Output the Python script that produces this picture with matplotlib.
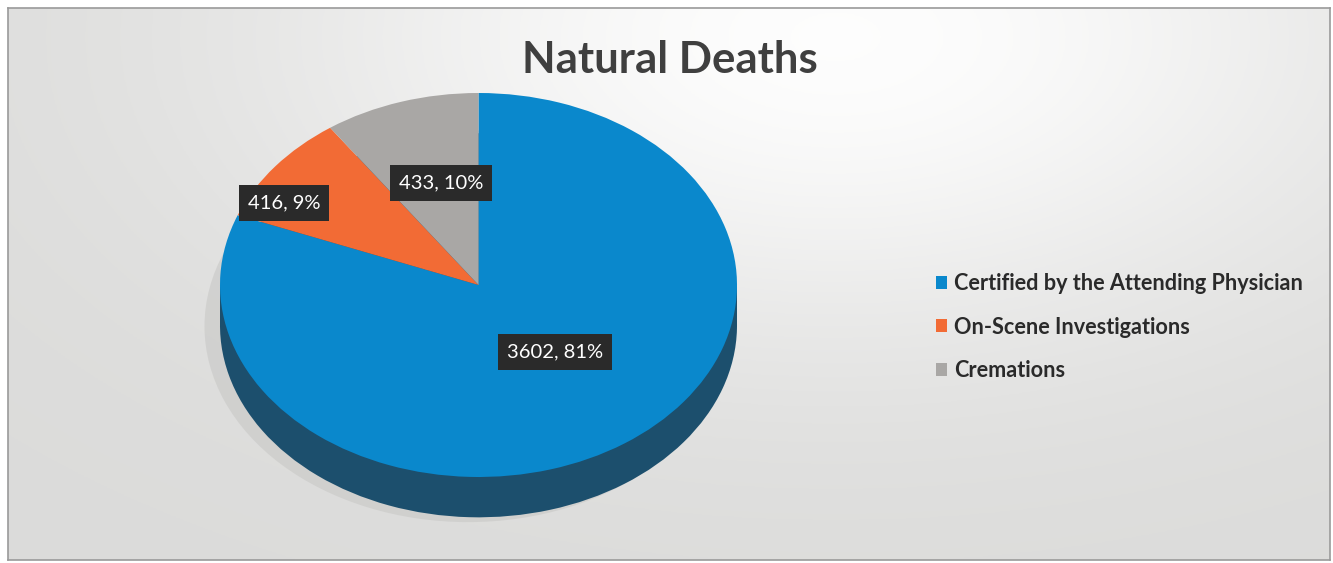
import numpy as np
import matplotlib
matplotlib.use("Agg")
import matplotlib.pyplot as plt
from matplotlib.patches import Rectangle

categories = ["Certified by the Attending Physician", "On-Scene Investigations", "Cremations"]
counts = [3602, 416, 433]
percents = [81, 9, 10]
colors = ["#0a88cc", "#f26b35", "#a9a7a5"]
side_color = "#1c4f6d"
title = "Natural Deaths"

W, H = 1333, 563
fig = plt.figure(figsize=(W / 100, H / 100), dpi=100)
fig.patch.set_facecolor("white")

# background panel with soft light glow
bg = fig.add_axes([8 / W, 3 / H, 1322 / W, 552 / H])
yy, xx = np.mgrid[0:200, 0:400]
glow = np.exp(-(((xx - 250) / 170.0) ** 2 + ((yy - 10) / 110.0) ** 2))
base = np.array([0.86, 0.86, 0.855])
img = base[None, None, :] + (1 - base)[None, None, :] * glow[..., None] * 0.95
bg.imshow(img, aspect="auto", extent=(0, 1, 0, 1), origin="upper")
bg.set_xlim(0, 1)
bg.set_ylim(0, 1)
bg.set_xticks([])
bg.set_yticks([])
for s in bg.spines.values():
    s.set_color("#9a9a9a")
    s.set_linewidth(1.2)

# pie axes: ellipse spans x 220..737, top y 93, ry 192 px, depth ~40 px
cx0, rx = 220, 517
top, ry = 93, 192
depth = 0.21
ymin = -1 - depth - 0.01
h_px = (1 - ymin) * ry
ax = fig.add_axes([cx0 / W, 1 - (top + h_px) / H, rx / W, h_px / H])
ax.set_facecolor("none")

# soft shadow
ax.pie([1], radius=1.02, center=(-0.04, -depth - 0.005), colors=["#c8c8c6"],
       wedgeprops=dict(linewidth=0, alpha=0.6))
# side of the cylinder
ax.pie(counts, radius=1, center=(0, -depth), startangle=90, counterclock=False,
       colors=[side_color] * 3, wedgeprops=dict(linewidth=0))
ax.add_patch(Rectangle((-1, -depth), 2, depth, facecolor=side_color, linewidth=0))
# top face
wedges, _ = ax.pie(counts, radius=1, center=(0, 0), startangle=90, counterclock=False,
                   colors=colors, wedgeprops=dict(linewidth=0))
ax.set_aspect("auto")
ax.set_xlim(-1, 1)
ax.set_ylim(ymin, 1)
ax.axis("off")

label_pos = [(0.296, -0.349), (-0.752, 0.427), (-0.145, 0.531)]
for (x, y), c, p in zip(label_pos, counts, percents):
    ax.text(x, y, f"{c}, {p}%", ha="center", va="center", color="white",
            fontsize=14.5, family="Lato",
            bbox=dict(boxstyle="square,pad=0.45", facecolor="#2a2a2a", edgecolor="none"))

fig.text(670 / W, 1 - 60 / H, title, ha="center", va="center", fontsize=31.5,
         fontweight="bold", family="Lato", color="#3f3f3f")

leg = fig.legend(wedges, categories, loc="center left",
                 bbox_to_anchor=(916 / W, 1 - 327 / H), frameon=False,
                 prop=dict(family="Lato", weight="bold", size=15.6),
                 handlelength=0.55, handleheight=0.55, handletextpad=0.3,
                 labelspacing=1.05)
for t in leg.get_texts():
    t.set_color("#2a2a2a")

fig.savefig("out.png", dpi=100, facecolor="white")
